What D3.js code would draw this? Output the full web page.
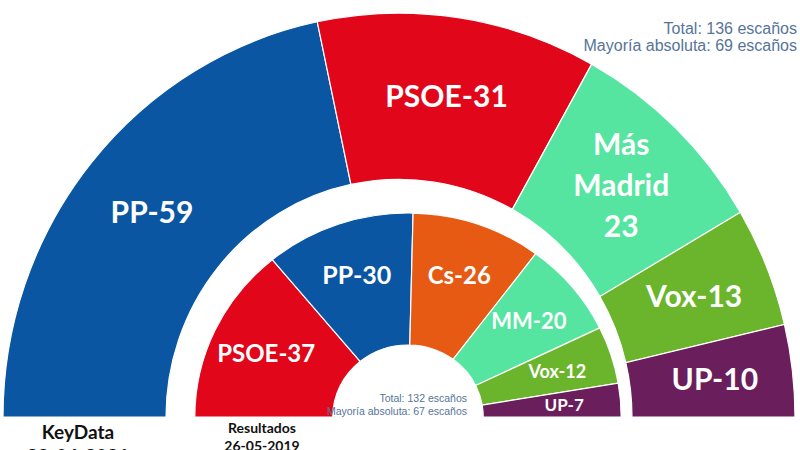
<!DOCTYPE html>
<html>
<head>
<meta charset="utf-8">
<script src="https://cdn.jsdelivr.net/npm/d3@7"></script>
<style>
  body { margin: 0; background: #fff; }
  svg { display: block; }
</style>
</head>
<body>
<div id="chart"></div>
<script>
// encuesta (anillo exterior) y resultados 2019 (anillo interior)
let outerParties = ['PP', 'PSOE', 'Más Madrid', 'Vox', 'UP']
let outerSeats = [59, 31, 23, 13, 10]

let innerParties = ['PSOE', 'PP', 'Cs', 'MM', 'Vox', 'UP']
let innerSeats = [37, 30, 26, 20, 12, 7]

let outerNotes = ['Total: 136 escaños', 'Mayoría absoluta: 69 escaños']
let innerNotes = ['Total: 132 escaños', 'Mayoría absoluta: 67 escaños']

let width = 800
let height = 450

let colorScale = d3.scaleOrdinal()
  .domain(['PP', 'PSOE', 'Más Madrid', 'MM', 'Vox', 'UP', 'Cs'])
  .range(['#0a56a3', '#e2061a', '#55e5a1', '#55e5a1', '#6bb52c', '#6a1e5c', '#e75a14'])

let svg = d3.select('#chart')
  .append('svg')
  .attr('width', width)
  .attr('height', height)

let pie = d3.pie()
  .sort(null)
  .startAngle(-Math.PI / 2)
  .endAngle(Math.PI / 2)

function drawRing(parties, seats, opts) {
  let data = pie(seats).map((d, i) => Object.assign(d, { party: parties[i] }))
  let arc = d3.arc().innerRadius(opts.r0).outerRadius(opts.r1)

  let g = svg.append('g')
    .attr('transform', `translate(${opts.cx},${opts.cy}) scale(${opts.sx},${opts.sy})`)

  g.selectAll('path')
    .data(data)
    .enter()
    .append('path')
    .attr('d', arc)
    .attr('fill', d => colorScale(d.party))
    .attr('stroke', 'white')
    .attr('stroke-width', 1.2)
    .attr('vector-effect', 'non-scaling-stroke')

  let labels = svg.append('g')
  data.forEach((d, i) => {
    let a = (d.startAngle + d.endAngle) / 2
    let x = opts.cx + opts.lr * Math.sin(a) * opts.sx
    let y = opts.cy - opts.lr * Math.cos(a) * opts.sy
    let lines = d.party.includes(' ')
      ? d.party.split(' ').concat([String(d.value)])
      : [d.party + '-' + d.value]
    let fs = opts.fontSize[i]
    let t = labels.append('text')
      .attr('text-anchor', 'middle')
      .attr('font-family', 'Lato, "Open Sans", sans-serif')
      .attr('font-weight', 700)
      .attr('font-size', fs)
      .attr('fill', 'white')
    lines.forEach((line, j) => {
      t.append('tspan')
        .attr('x', x)
        .attr('y', y + (j - (lines.length - 1) / 2) * 41 + fs * 0.36)
        .text(line)
    })
  })
}

drawRing(outerParties, outerSeats, {
  cx: 399, cy: 417, sx: 1, sy: 1.02, r0: 233, r1: 396, lr: 318,
  fontSize: [30, 30, 30, 30, 30]
})

drawRing(innerParties, innerSeats, {
  cx: 408, cy: 417, sx: 1.045, sy: 1, r0: 72, r1: 204, lr: 150,
  fontSize: [24, 25, 24, 22, 18, 17]
})

// notas de totales
svg.append('g')
  .selectAll('text')
  .data(outerNotes)
  .enter()
  .append('text')
  .attr('x', 797)
  .attr('y', (d, i) => 34 + i * 17)
  .attr('text-anchor', 'end')
  .attr('font-family', '"Liberation Sans", Arial, sans-serif')
  .attr('font-size', 16)
  .attr('fill', '#56759a')
  .text(d => d)

svg.append('g')
  .selectAll('text')
  .data(innerNotes)
  .enter()
  .append('text')
  .attr('x', 467)
  .attr('y', (d, i) => 402 + i * 12.5)
  .attr('text-anchor', 'end')
  .attr('font-family', '"Liberation Sans", Arial, sans-serif')
  .attr('font-size', 10.5)
  .attr('fill', '#56759a')
  .text(d => d)

// pies de la izquierda (la segunda línea queda cortada por el borde, como en el original)
let captions = [
  { x: 78, lines: ['KeyData', '28-04-2021'], size: 19, y: 439 },
  { x: 262, lines: ['Resultados', '26-05-2019'], size: 14, y: 433 }
]
captions.forEach(c => {
  c.lines.forEach((line, j) => {
    svg.append('text')
      .attr('x', c.x)
      .attr('y', c.y + j * c.size * 1.25)
      .attr('text-anchor', 'middle')
      .attr('font-family', 'Lato, "Open Sans", sans-serif')
      .attr('font-weight', 700)
      .attr('font-size', c.size)
      .attr('fill', '#111')
      .text(line)
  })
})
</script>
</body>
</html>
